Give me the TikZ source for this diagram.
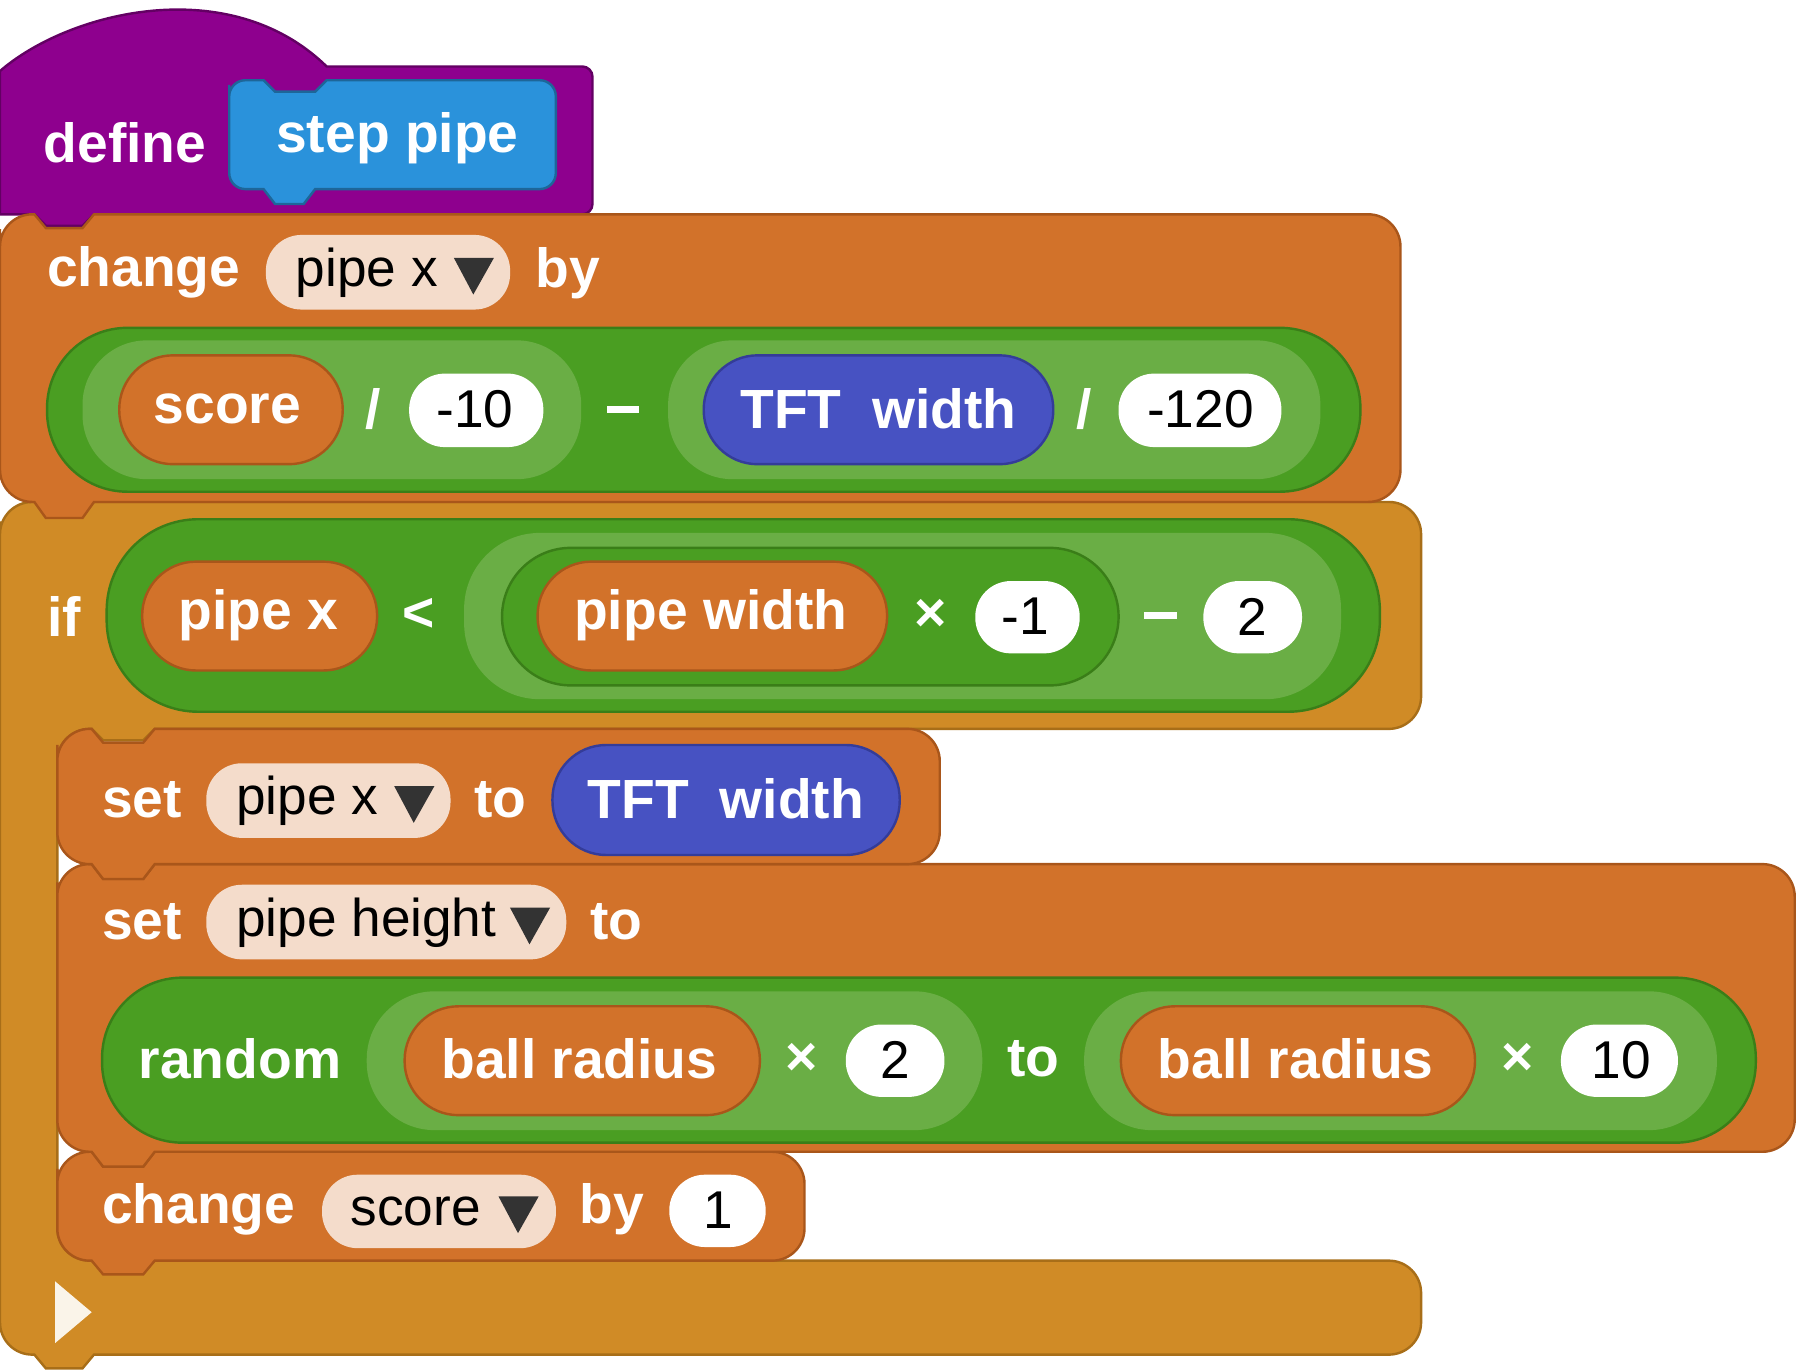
\documentclass[tikz,border=0pt]{standalone}
\usepackage{fontspec}
\setmainfont{Liberation Sans}
\begin{document}
\begin{tikzpicture}[x=0.01cm,y=-0.01cm,line width=0.6pt]
\definecolor{purp}{HTML}{8E008E}
\definecolor{blu}{HTML}{2A92DB}
\definecolor{ora}{HTML}{D2722A}
\definecolor{oraD}{HTML}{A9561A}
\definecolor{ctl}{HTML}{D08B26}
\definecolor{ctlD}{HTML}{A86E18}
\definecolor{grn}{HTML}{4A9E22}
\definecolor{grnD}{HTML}{3A7E18}
\definecolor{grnL}{HTML}{6AAE45}
\definecolor{ind}{HTML}{4752C2}
\definecolor{indD}{HTML}{343C99}
\definecolor{dd}{HTML}{F4DCCB}
\tikzset{
 pill/.style={draw=#1, rounded corners=0.3cm, inner sep=0pt},
 lbl/.style={text=white, font=\fontsize{13.7}{15}\selectfont\bfseries, anchor=west, inner sep=0pt},
 blk/.style={text=black, font=\fontsize{13.2}{15}\selectfont, anchor=west, inner sep=0pt},
 tri/.style={fill=black!80},
 minus/.style={white, line width=1.7pt},
}
\useasboundingbox (0,0) rectangle (1568,1197);
% ---- hat
\fill[purp,draw=purp!70!black] (0,62) .. controls (60,10) and (200,-25) .. (285,58) -- (508,58) arc[start angle=-90,end angle=0,radius=9] -- (517,178) arc[start angle=0,end angle=90,radius=9] -- (82,187) -- (72,197) -- (40,197) -- (30,187) -- (0,187) -- cycle;
\node[lbl] (define) at (37,125) {define};
\fill[blu,draw=blu!70!black] (200,74) [rounded corners=4] -- (200,70) [sharp corners] -- (230,70) -- (240,80) -- (275,80) -- (285,70) [rounded corners=4] -- (485,70) -- (485,165) [sharp corners] -- (275,165) -- (265,178) -- (240,178) -- (230,165) [rounded corners=4] -- (200,165) -- (200,74);
\node[lbl] (step) at (240,121) {step pipe};
% ---- if block (C)
\fill[ctl,draw=ctlD] (0,455) [rounded corners=8] -- (0,438) [sharp corners] -- (30,438) -- (40,448) -- (72,448) -- (82,438) [rounded corners=8] -- (1240,438) -- (1240,636) [sharp corners] -- (135,636) -- (125,646) -- (90,646) -- (80,636) [rounded corners=8] -- (50,636) -- (50,1100) [sharp corners] -- (80,1100) -- (90,1110) -- (125,1110) -- (135,1100) [rounded corners=8] -- (1240,1100) -- (1240,1182) [sharp corners] -- (82,1182) -- (72,1194) -- (40,1194) -- (30,1182) [rounded corners=8] -- (0,1182) -- (0,455);
% ---- change pipe x
\fill[ora,draw=oraD] (0,200) [rounded corners=8] -- (0,187) [sharp corners] -- (30,187) -- (40,199) -- (72,199) -- (82,187) [rounded corners=8] -- (1222,187) -- (1222,438) [sharp corners] -- (82,438) -- (72,452) -- (40,452) -- (30,438) [rounded corners=8] -- (0,438) -- (0,200);
% ---- block bodies, bottom first so each bottom tab overlaps the next block
\fill[ora,draw=oraD] (50,1020) [rounded corners=8] -- (50,1005) [sharp corners] -- (80,1005) -- (90,1018) -- (125,1018) -- (135,1005) [rounded corners=8] -- (702,1005) -- (702,1100) [sharp corners] -- (135,1100) -- (125,1112) -- (90,1112) -- (80,1100) [rounded corners=8] -- (50,1100) -- (50,1020);
\fill[ora,draw=oraD] (50,770) [rounded corners=8] -- (50,754) [sharp corners] -- (80,754) -- (90,767) -- (125,767) -- (135,754) [rounded corners=8] -- (1566,754) -- (1566,1005) [sharp corners] -- (135,1005) -- (125,1018) -- (90,1018) -- (80,1005) [rounded corners=8] -- (50,1005) -- (50,770);
\fill[ora,draw=oraD] (50,650) [rounded corners=8] -- (50,636) [sharp corners] -- (80,636) -- (90,648) -- (125,648) -- (135,636) [rounded corners=8] -- (820,636) -- (820,754) [sharp corners] -- (135,754) -- (125,767) -- (90,767) -- (80,754) [rounded corners=8] -- (50,754) -- (50,650);
% ---- change pipe x content
\node[lbl] (ch1) at (40,238) {change};
\node[pill=dd,fill=dd,minimum width=211*0.01cm,minimum height=63*0.01cm,anchor=north west] (dd1) at (232,205) {};
\node[blk] (dd1t) at (257,238) {pipe x};
\fill[tri] (396,225) -- (431,225) -- (413,257) -- cycle;
\node[lbl] (by1) at (466,238) {by};
\node[pill=grnD,fill=grn,rounded corners=0.7cm,minimum width=1146*0.01cm,minimum height=143*0.01cm,anchor=north west] (g1) at (40,285) {};
\node[pill=grnL,fill=grnL,rounded corners=0.55cm,minimum width=433*0.01cm,minimum height=119*0.01cm,anchor=north west] (g1a) at (72,297) {};
\node[pill=grnL,fill=grnL,rounded corners=0.55cm,minimum width=567*0.01cm,minimum height=119*0.01cm,anchor=north west] (g1b) at (583,297) {};
\node[pill=oraD,fill=ora,rounded corners=0.47cm,minimum width=195*0.01cm,minimum height=95*0.01cm,anchor=north west] (sc) at (103,309) {};
\node[lbl] at (133,357) {score};
\node[lbl] at (318,357) {/};
\node[pill=white,fill=white,minimum width=115*0.01cm,minimum height=62*0.01cm,anchor=north west] (m10) at (357,326) {};
\node[blk] at (380,357) {-10};
\coordinate (mi1a) at (530,357); \coordinate (mi1b) at (558,357);
\draw[minus] (mi1a) -- (mi1b);
\node[pill=indD,fill=ind,rounded corners=0.47cm,minimum width=305*0.01cm,minimum height=95*0.01cm,anchor=north west] (tft1) at (613,309) {};
\node[lbl] at (645,357) {TFT\ \ width};
\node[lbl] at (938,357) {/};
\node[pill=white,fill=white,minimum width=140*0.01cm,minimum height=62*0.01cm,anchor=north west] (m120) at (976,326) {};
\node[blk] at (1000,357) {-120};
% ---- if condition
\node[lbl] (if) at (40,538) {if};
\node[pill=grnD,fill=grn,rounded corners=0.8cm,minimum width=1111*0.01cm,minimum height=168*0.01cm,anchor=north west] (g2) at (92,452) {};
\node[pill=oraD,fill=ora,rounded corners=0.47cm,minimum width=205*0.01cm,minimum height=95*0.01cm,anchor=north west] (px) at (123,489) {};
\node[lbl] at (155,537) {pipe x};
\node[lbl] at (350,537) {<};
\node[pill=grnL,fill=grnL,rounded corners=0.65cm,minimum width=763*0.01cm,minimum height=143*0.01cm,anchor=north west] (g2a) at (405,465) {};
\node[pill=grnD,fill=grn,rounded corners=0.6cm,minimum width=538*0.01cm,minimum height=120*0.01cm,anchor=north west] (g2b) at (437,477) {};
\node[pill=oraD,fill=ora,rounded corners=0.47cm,minimum width=305*0.01cm,minimum height=95*0.01cm,anchor=north west] (pw) at (468,489) {};
\node[lbl] at (500,537) {pipe width};
\node[lbl] at (797,537) {×};
\node[pill=white,fill=white,minimum width=89*0.01cm,minimum height=61*0.01cm,anchor=north west] (m1) at (851,507) {};
\node[blk] at (873,538) {-1};
\coordinate (mi2a) at (998,537); \coordinate (mi2b) at (1027,537);
\draw[minus] (mi2a) -- (mi2b);
\node[pill=white,fill=white,minimum width=84*0.01cm,minimum height=61*0.01cm,anchor=north west] (two) at (1050,507) {};
\node[blk] at (1079,538) {2};
% ---- set pipe x
\node[lbl] (set1) at (88,698) {set};
\node[pill=dd,fill=dd,minimum width=211*0.01cm,minimum height=63*0.01cm,anchor=north west] (dd2) at (180,666) {};
\node[blk] at (205,699) {pipe x};
\fill[tri] (344,686) -- (379,686) -- (361,718) -- cycle;
\node[lbl] (to1) at (413,698) {to};
\node[pill=indD,fill=ind,rounded corners=0.47cm,minimum width=303*0.01cm,minimum height=96*0.01cm,anchor=north west] (tft2) at (481,649) {};
\node[lbl] at (512,697) {TFT\ \ width};
% ---- set pipe height
\node[lbl] (set2) at (88,804) {set};
\node[pill=dd,fill=dd,minimum width=312*0.01cm,minimum height=63*0.01cm,anchor=north west] (dd3) at (180,772) {};
\node[blk] at (205,805) {pipe height};
\fill[tri] (445,792) -- (480,792) -- (462,824) -- cycle;
\node[lbl] (to2) at (514,804) {to};
\node[pill=grnD,fill=grn,rounded corners=0.7cm,minimum width=1443*0.01cm,minimum height=144*0.01cm,anchor=north west] (g3) at (88,852) {};
\node[lbl] at (120,924) {random};
\node[pill=grnL,fill=grnL,rounded corners=0.58cm,minimum width=535*0.01cm,minimum height=119*0.01cm,anchor=north west] (g3a) at (320,865) {};
\node[pill=grnL,fill=grnL,rounded corners=0.58cm,minimum width=550*0.01cm,minimum height=119*0.01cm,anchor=north west] (g3b) at (946,865) {};
\node[pill=oraD,fill=ora,rounded corners=0.47cm,minimum width=310*0.01cm,minimum height=95*0.01cm,anchor=north west] (br1) at (352,877) {};
\node[lbl] at (384,924) {ball radius};
\node[lbl] at (684,924) {×};
\node[pill=white,fill=white,minimum width=84*0.01cm,minimum height=61*0.01cm,anchor=north west] (t2) at (738,894) {};
\node[blk] at (767,925) {2};
\node[lbl] at (878,924) {to};
\node[pill=oraD,fill=ora,rounded corners=0.47cm,minimum width=309*0.01cm,minimum height=95*0.01cm,anchor=north west] (br2) at (977,877) {};
\node[lbl] at (1009,924) {ball radius};
\node[lbl] at (1309,924) {×};
\node[pill=white,fill=white,minimum width=100*0.01cm,minimum height=61*0.01cm,anchor=north west] (t10) at (1362,894) {};
\node[blk] at (1388,925) {10};
% ---- change score
\node[lbl] (ch2) at (88,1055) {change};
\node[pill=dd,fill=dd,minimum width=202*0.01cm,minimum height=62*0.01cm,anchor=north west] (dd4) at (281,1025) {};
\node[blk] at (305,1057) {score};
\fill[tri] (435,1044) -- (470,1044) -- (452,1076) -- cycle;
\node[lbl] (by2) at (505,1055) {by};
\node[pill=white,fill=white,minimum width=82*0.01cm,minimum height=61*0.01cm,anchor=north west] (one) at (584,1025) {};
\node[blk] at (613,1056) {1};
% ---- arrow
\fill[white!90!ctl] (48,1118) -- (80,1145) -- (48,1172) -- cycle;
\end{tikzpicture}
\end{document}
